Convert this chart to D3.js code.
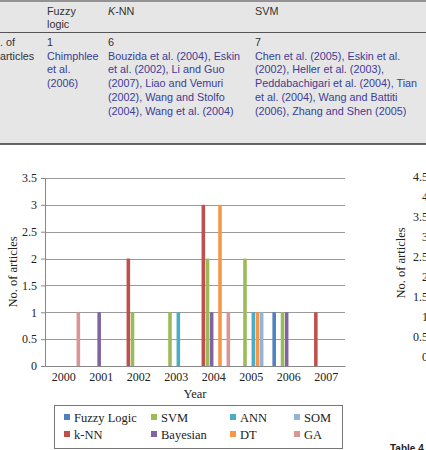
<!DOCTYPE html>
<html>
<head>
<meta charset="utf-8">
<script src="https://cdn.jsdelivr.net/npm/d3@7"></script>
<style>
  body { margin: 0; background: #fff; }
  svg { display: block; }
</style>
</head>
<body>
<svg id="page"></svg>
<script>
// chart data
const years = ["2000", "2001", "2002", "2003", "2004", "2005", "2006", "2007"];
const seriesNames = ["Fuzzy Logic", "k-NN", "SVM", "Bayesian", "ANN", "DT", "SOM", "GA"];
const seriesColors = ["#4F81BD", "#C0504D", "#9BBB59", "#8064A2", "#4BACC6", "#F79646", "#95B3D7", "#D99694"];
const fuzzyVals = [0, 0, 0, 0, 0, 0, 1, 0];
const knnVals = [0, 0, 2, 0, 3, 0, 0, 1];
const svmVals = [0, 0, 1, 1, 2, 2, 1, 0];
const bayesVals = [0, 1, 0, 0, 1, 0, 1, 0];
const annVals = [0, 0, 0, 1, 0, 1, 0, 0];
const dtVals = [0, 0, 0, 0, 3, 1, 0, 0];
const somVals = [0, 0, 0, 0, 0, 1, 0, 0];
const gaVals = [1, 0, 0, 0, 1, 0, 0, 0];
const yTicks = [0, 0.5, 1, 1.5, 2, 2.5, 3, 3.5];
const rightTicks = [0, 0.5, 1, 1.5, 2, 2.5, 3, 3.5, 4, 4.5];
// legend laid out column by column like the original
const legendOrder = ["Fuzzy Logic", "SVM", "ANN", "SOM", "k-NN", "Bayesian", "DT", "GA"];

// table text (cropped page above the chart)
const tableHeads = ["Fuzzy|logic", "K-NN", "SVM"];
const tableCounts = ["1", "6", "7"];
const tableRefs = [
    ["Chimphlee", "et al.", "(2006)"],
    ["Bouzida et al. (2004), Eskin", "et al. (2002), Li and Guo", "(2007), Liao and Vemuri", "(2002), Wang and Stolfo", "(2004), Wang et al. (2004)"],
    ["Chen et al. (2005), Eskin et al.", "(2002), Heller et al. (2003),", "Peddabachigari et al. (2004), Tian", "et al. (2004), Wang and Battiti", "(2006), Zhang and Shen (2005)"]
];

const allVals = [fuzzyVals, knnVals, svmVals, bayesVals, annVals, dtVals, somVals, gaVals];

const W = 426, H = 450;
const svg = d3.select("#page").attr("width", W).attr("height", H);
svg.append("rect").attr("width", W).attr("height", H).attr("fill", "#fff");

// ---- table strip ----
const tbl = svg.append("g").style("font-family", "'Liberation Sans', Arial, sans-serif").style("font-size", "10.8px");
tbl.append("rect").attr("x", 0).attr("y", 0).attr("width", W).attr("height", 144).attr("fill", "#e6e6e6");
tbl.append("line").attr("x1", 0).attr("x2", W).attr("y1", 1).attr("y2", 1).attr("stroke", "#777").attr("stroke-width", 1.5);
tbl.append("line").attr("x1", 0).attr("x2", W).attr("y1", 32.5).attr("y2", 32.5).attr("stroke", "#555").attr("stroke-width", 1);
tbl.append("line").attr("x1", 0).attr("x2", W).attr("y1", 144).attr("y2", 144).attr("stroke", "#333").attr("stroke-width", 1.5);

const colX = [47, 108, 255];
const lineH = 13.7;

tableHeads.forEach((h, i) => {
    h.split("|").forEach((ln, j) => {
        const t = tbl.append("text").attr("x", colX[i]).attr("y", 14.5 + j * lineH).attr("fill", "#333");
        if (ln === "K-NN") {
            t.append("tspan").style("font-style", "italic").text("K");
            t.append("tspan").text("-NN");
        } else {
            t.text(ln);
        }
    });
});
tbl.append("text").attr("x", 0).attr("y", 46).attr("fill", "#333").text(". of");
tbl.append("text").attr("x", 0).attr("y", 46 + lineH).attr("fill", "#333").text("articles");
tableCounts.forEach((c, i) => {
    tbl.append("text").attr("x", colX[i]).attr("y", 46).attr("fill", "#333").text(c);
});
tableRefs.forEach((lines, i) => {
    lines.forEach((ln, j) => {
        tbl.append("text").attr("x", colX[i]).attr("y", 46 + (j + 1) * lineH).attr("fill", "#3c3c96").text(ln);
    });
});

// ---- main bar chart ----
const plot = { left: 45, right: 345, top: 178, bottom: 366 };
const serif = "'Liberation Serif', 'Times New Roman', serif";

const x0 = d3.scaleBand().domain(years).range([plot.left, plot.right]).padding(0);
const x1 = d3.scaleBand().domain(seriesNames).range([0, x0.bandwidth()]).paddingInner(0).paddingOuter(0.5);
const y = d3.scaleLinear().domain([0, 3.5]).range([plot.bottom, plot.top]);
const color = d3.scaleOrdinal().domain(seriesNames).range(seriesColors);

const chart = svg.append("g").style("font-family", serif);

// gridlines
chart.append("g").selectAll("line")
    .data(yTicks.filter(d => d > 0))
    .join("line")
    .attr("x1", plot.left).attr("x2", plot.right)
    .attr("y1", d => Math.round(y(d)) + 0.5).attr("y2", d => Math.round(y(d)) + 0.5)
    .attr("stroke", "#9a9a9a").attr("stroke-width", 1);

// bars
const rows = years.map((yr, i) => ({ year: yr, vals: seriesNames.map((s, k) => ({ s: s, v: allVals[k][i] })) }));
chart.append("g").selectAll("g")
    .data(rows)
    .join("g")
    .attr("transform", d => `translate(${x0(d.year)},0)`)
    .selectAll("rect")
    .data(d => d.vals.filter(e => e.v > 0))
    .join("rect")
    .attr("x", d => x1(d.s) + 0.3)
    .attr("width", x1.bandwidth() - 0.6)
    .attr("y", d => y(d.v))
    .attr("height", d => y(0) - y(d.v))
    .attr("fill", d => color(d.s));

// y axis
const yAxis = chart.append("g")
    .attr("transform", `translate(${plot.left},0)`)
    .call(d3.axisLeft(y).tickValues(yTicks).tickSize(4).tickFormat(d3.format("")));
yAxis.select(".domain").attr("stroke", "#888");
yAxis.selectAll(".tick line").attr("stroke", "#888");
yAxis.selectAll("text").style("font-family", serif).style("font-size", "12px").attr("fill", "#222").attr("dx", "-1");

// x axis
const xAxis = chart.append("g")
    .attr("transform", `translate(0,${plot.bottom})`)
    .call(d3.axisBottom(x0).tickSize(0).tickPadding(6));
xAxis.select(".domain").attr("stroke", "#888");
xAxis.selectAll("text").style("font-family", serif).style("font-size", "12px").attr("fill", "#222");

chart.append("text")
    .attr("transform", `translate(17,${(plot.top + plot.bottom) / 2}) rotate(-90)`)
    .attr("text-anchor", "middle")
    .style("font-size", "12.5px").attr("fill", "#222")
    .text("No. of articles");

chart.append("text")
    .attr("x", (plot.left + plot.right) / 2).attr("y", 398)
    .attr("text-anchor", "middle")
    .style("font-size", "12.5px").attr("fill", "#222")
    .text("Year");

// legend
const legend = chart.append("g");
legend.append("rect").attr("x", 54.5).attr("y", 405.5).attr("width", 288).attr("height", 43)
    .attr("fill", "none").attr("stroke", "#777");
const legX = [64, 151, 230, 294];
const legY = [418, 435];
legendOrder.forEach((name, i) => {
    const cx = legX[i % 4], cy = legY[Math.floor(i / 4)];
    legend.append("rect").attr("x", cx).attr("y", cy - 4).attr("width", 6).attr("height", 6).attr("fill", color(name));
    legend.append("text").attr("x", cx + 10).attr("y", cy + 4)
        .style("font-size", "12.5px").attr("fill", "#222").text(name);
});

// ---- partial second chart on the right edge (cut off in the original) ----
const y2 = d3.scaleLinear().domain([0, 4.5]).range([357, 177]);
const right = svg.append("g").style("font-family", serif);
right.append("g").selectAll("text")
    .data(rightTicks)
    .join("text")
    .attr("x", 426 + 2).attr("y", d => y2(d) + 4)
    .attr("text-anchor", "end")
    .style("font-size", "12px").attr("fill", "#222")
    .text(d => d);
right.append("text")
    .attr("transform", `translate(405,263) rotate(-90)`)
    .attr("text-anchor", "middle")
    .style("font-size", "12.5px").attr("fill", "#222")
    .text("No. of articles");

svg.append("text").attr("x", 390).attr("y", 452)
    .style("font-family", "'Liberation Sans', Arial, sans-serif").style("font-size", "10px").style("font-weight", "bold")
    .attr("fill", "#222").text("Table 4");
</script>
</body>
</html>
